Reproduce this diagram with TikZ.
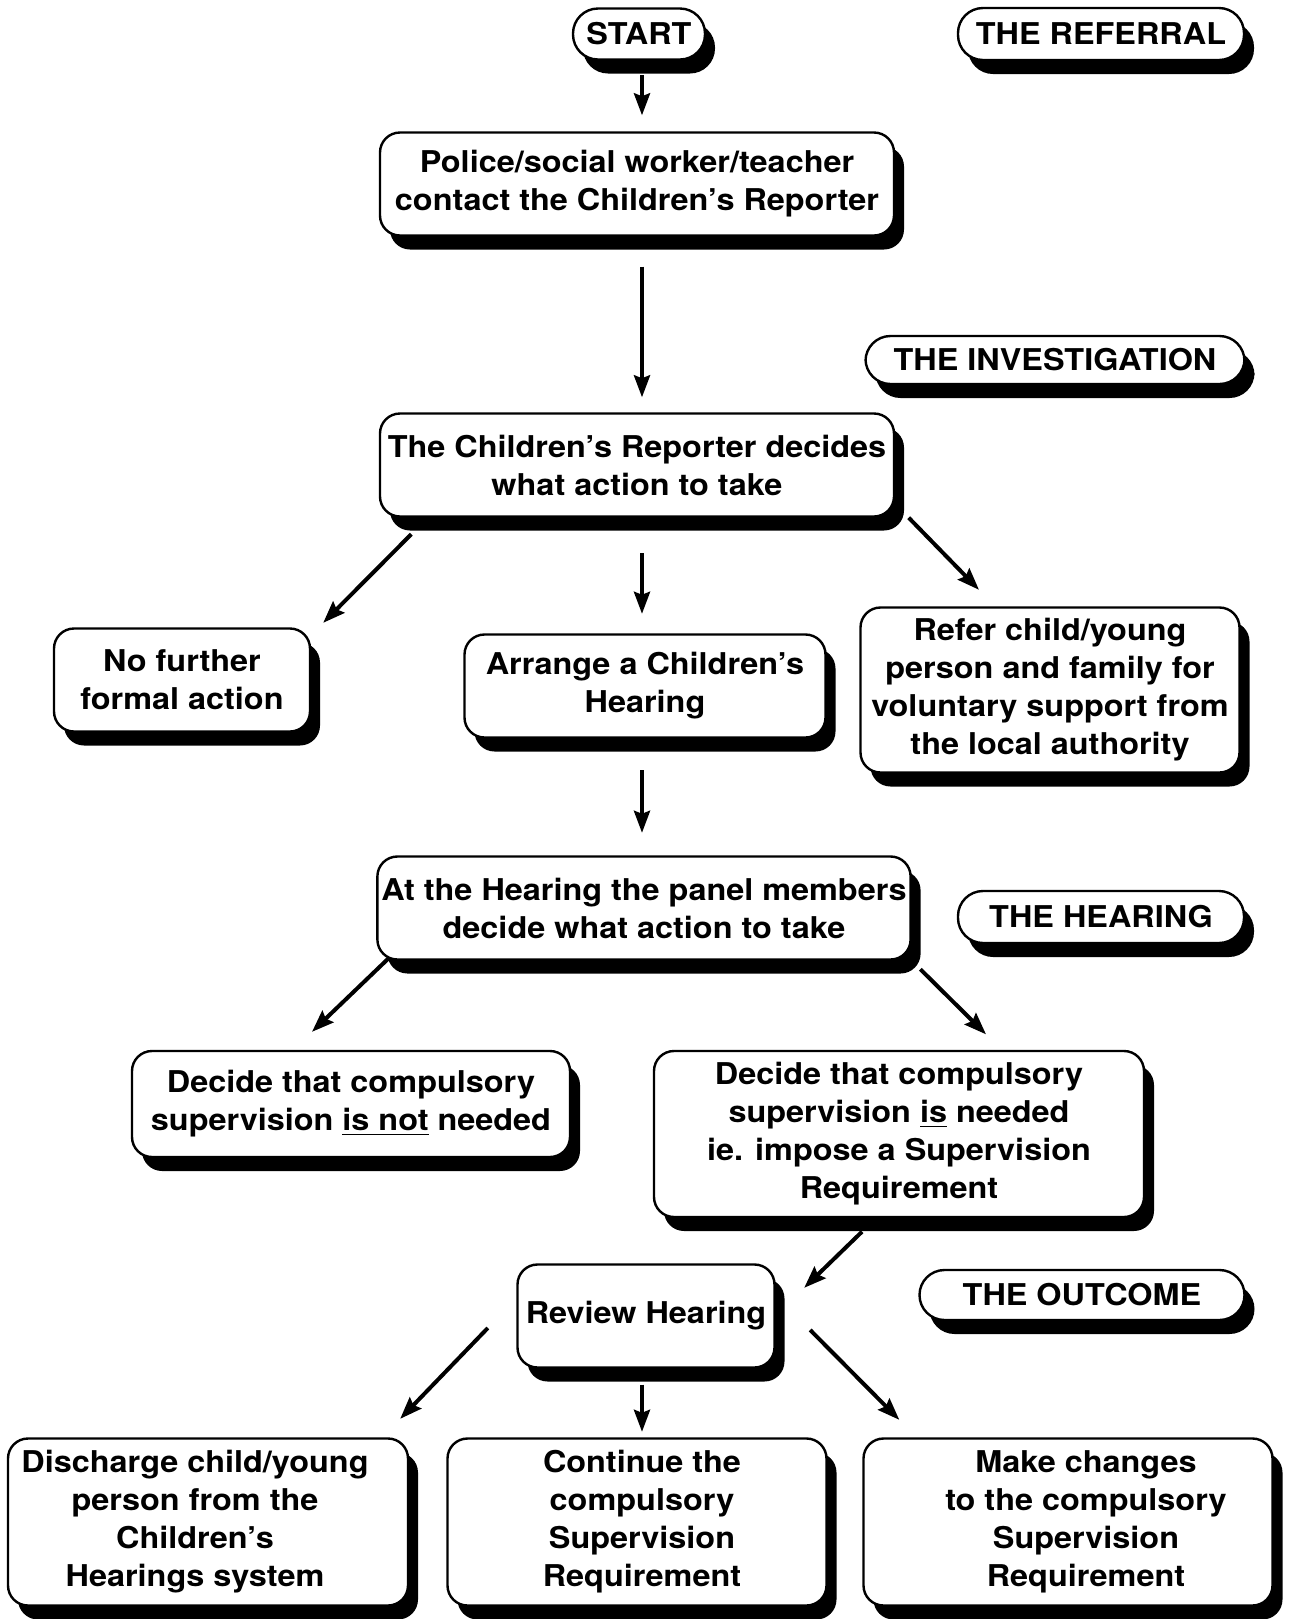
\documentclass[tikz,border=0pt]{standalone}
\usepackage{fontspec}
\setmainfont{TeX Gyre Heros}[FakeStretch=1.08]
\usepackage{tikz}
\usetikzlibrary{shadows, arrows.meta}

\newcommand{\padded}[2]{\begin{tabular}{@{\hspace{#1}}c@{}}#2\end{tabular}}

\tikzset{
  box/.style = {draw, line width = 1.2pt, rounded corners = 10pt, fill = white,
    align = center, inner sep = 2pt,
    font = \fontsize{15}{19}\selectfont\bfseries,
    drop shadow = {shadow xshift = 5pt, shadow yshift = -7pt, fill = black, opacity = 1}},
  pill/.style = {box, rounded corners = 12.5pt},
  arr/.style = {-{Stealth[length = 11pt, width = 8pt, inset = 1.5pt]}, line width = 2pt}
}

\begin{document}
\begin{tikzpicture}[x = 0.5pt, y = -0.5pt]
    \useasboundingbox (0, 0) rectangle (1296, 1619);

    \node [pill, minimum width = 66pt, minimum height = 25.5pt] (start) at (639, 34) {START};
    \node [pill, minimum width = 143pt, minimum height = 26pt] (referral) at (1101, 34) {THE REFERRAL};
    \node [box, minimum width = 257pt, minimum height = 51.5pt] (pol) at (637, 184) {Police/social worker/teacher\\contact the Children’s Reporter};

    \node [pill, minimum width = 189.5pt, minimum height = 24pt] (invest) at (1055, 360) {THE INVESTIGATION};
    \node [box, minimum width = 257pt, minimum height = 51.5pt] (rep) at (637, 465) {The Children’s Reporter decides\\what action to take};

    \node [box, minimum width = 128pt, minimum height = 51.5pt] (nofa) at (182, 680) {No further\\formal action};
    \node [box, minimum width = 180.5pt, minimum height = 51.5pt] (arrange) at (645, 686) {Arrange a Children’s\\Hearing};
    \node [box, minimum width = 189.5pt, minimum height = 82.5pt] (refer) at (1050, 690) {Refer child/young\\person and family for\\voluntary support from\\the local authority};

    \node [box, minimum width = 264.5pt, minimum height = 51.5pt] (hear) at (644, 908) {At the Hearing the panel members\\decide what action to take};
    \node [pill, minimum width = 143pt, minimum height = 26pt] (thehear) at (1101, 917) {THE HEARING};

    \node [box, minimum width = 219pt, minimum height = 53pt] (notneeded) at (351, 1104) {Decide that compulsory\\supervision \underline{is not} needed};
    \node [box, minimum width = 245pt, minimum height = 83pt] (needed) at (899, 1134) {Decide that compulsory\\supervision \underline{is} needed\\ie. impose a Supervision\\Requirement};

    \node [box, minimum width = 128.5pt, minimum height = 51.5pt] (review) at (646, 1316) {Review Hearing};
    \node [pill, minimum width = 162.5pt, minimum height = 25pt] (outcome) at (1082, 1295) {THE OUTCOME};

    \node [box, minimum width = 200pt, minimum height = 83.5pt] (discharge) at (208, 1522) {\padded{-13pt}{Discharge child/young\\person from the\\Children’s\\Hearings system}};
    \node [box, minimum width = 189.5pt, minimum height = 83.5pt] (continue) at (637, 1522) {\padded{5pt}{Continue the\\compulsory\\Supervision\\Requirement}};
    \node [box, minimum width = 204.5pt, minimum height = 83.5pt] (changes) at (1068, 1522) {\padded{18pt}{Make changes\\to the compulsory\\Supervision\\Requirement}};

    \draw [arr] ([shift = {(3, 14.5)}] start.south) -- ([shift = {(5, -16)}] pol.north);
    \draw [arr] ([shift = {(5, 30)}] pol.south) -- ([shift = {(5, -15)}] rep.north);

    \draw [arr] ([shift = {(32.5, 16.5)}] rep.south west) -- ([shift = {(12, -4.5)}] nofa.north east);
    \draw [arr] ([shift = {(5, 35.5)}] rep.south) -- ([shift = {(-3, -19.5)}] arrange.north);
    \draw [arr] ([shift = {(13.5, 0)}] rep.south east) -- ([shift = {(-71, -16.5)}] refer.north);

    \draw [arr] ([shift = {(-3, 31.5)}] arrange.south) -- ([shift = {(-2, -22.5)}] hear.north);

    \draw [arr] ([shift = {(12.5, -2.5)}] hear.south west) -- ([shift = {(-39, -18)}] notneeded.north);
    \draw [arr] ([shift = {(8.5, 8.5)}] hear.south east) -- ([shift = {(87, -15.5)}] needed.north);

    \draw [arr] ([shift = {(-37, 13.5)}] needed.south) -- ([shift = {(28.5, 24.5)}] review.north east);

    \draw [arr] ([shift = {(-28.5, 12)}] review.west) -- ([shift = {(-9, -18.5)}] discharge.north east);
    \draw [arr] ([shift = {(-4, 16)}] review.south) -- ([shift = {(5, -5.5)}] continue.north);
    \draw [arr] ([shift = {(34.5, 14)}] review.east) -- ([shift = {(37, -17.5)}] changes.north west);
  \end{tikzpicture}
\end{document}
